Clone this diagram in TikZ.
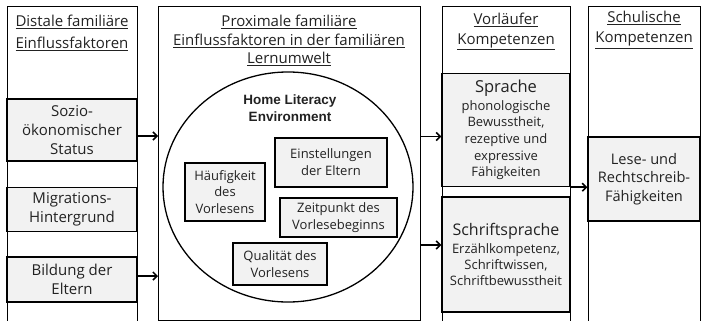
\documentclass[tikz,border=0pt]{standalone}
\usepackage{fontspec}
\setmainfont{Open Sans}
\newfontfamily\hlefont{Liberation Sans}
\usetikzlibrary{arrows.meta,shapes.geometric}
\definecolor{boxfill}{HTML}{F2F2F2}
\definecolor{txt}{HTML}{222222}
\begin{document}
\begin{tikzpicture}[x=1pt,y=-1pt,
  colbox/.style={draw=black, line width=1.4pt, anchor=north west, inner sep=0pt},
  fbox/.style={draw=black, line width=1.4pt, fill=boxfill, inner sep=0pt, align=center, text=txt,
    font=\fontsize{15}{18.7}\selectfont},
  ibox/.style={draw=black, line width=1.3pt, fill=boxfill, inner sep=0pt, align=center, text=txt,
    font=\fontsize{13}{16.8}\selectfont},
  ttl/.style={align=center, inner sep=0pt, text=txt},
  arr/.style={line width=1.5pt, -{Straight Barb[length=4pt,width=8pt,line width=1.5pt]}}
]
\useasboundingbox (0,0) rectangle (701,321);
% columns
\node[colbox, minimum width=130pt, minimum height=335pt] (c1) at (7,6) {};
\node[colbox, minimum width=262pt, minimum height=313.5pt] (c2) at (158,6) {};
\node[colbox, minimum width=128pt, minimum height=335pt] (c3) at (442,6) {};
\node[colbox, minimum width=112pt, minimum height=335pt] (c4) at (588,6) {};
% titles
\node[ttl, font=\fontsize{15}{22.3}\selectfont] (t1) at (72,33) {\underline{Distale familiäre}\\\underline{Einflussfaktoren}};
\node[ttl, font=\fontsize{15}{18.5}\selectfont] (t2) at (289,40.5) {\underline{Proximale familiäre}\\\underline{Einflussfaktoren in der familiären}\\\underline{Lernumwelt}};
\node[ttl, font=\fontsize{15}{20}\selectfont] (t3) at (506,31.7) {\underline{Vorläufer}\\\underline{Kompetenzen}};
\node[ttl, font=\fontsize{15}{20}\selectfont] (t4) at (644,30) {\underline{Schulische}\\\underline{Kompetenzen}};
% column 1 boxes
\node[fbox, minimum width=130pt, minimum height=62pt] (soz) at (72,130) {Sozio-\\ökonomischer\\Status};
\node[fbox, minimum width=130pt, minimum height=44pt] (mig) at (72,209.5) {Migrations-\\Hintergrund};
\node[fbox, minimum width=130pt, minimum height=45pt] (bil) at (72,279.5) {Bildung der\\Eltern};
% column 2
\node[draw=black, line width=1.3pt, ellipse, minimum width=250pt, minimum height=230pt, inner sep=0pt] (hle) at (288,187) {};
\node[ttl, font=\hlefont\bfseries\fontsize{13.5}{17}\selectfont] (hlet) at (290,108.5) {Home Literacy\\Environment};
\node[ibox, minimum width=112pt, minimum height=49pt] (einst) at (331,162.5) {Einstellungen\\der Eltern};
\node[ibox, minimum width=80pt, minimum height=58pt] (haeuf) at (225,192) {Häufigkeit\\des\\Vorlesens};
\node[ibox, minimum width=117pt, minimum height=39pt] (zeit) at (338.5,217.5) {Zeitpunkt des\\Vorlesebeginns};
\node[ibox, minimum width=94pt, minimum height=42pt] (qual) at (280,264) {Qualität des\\Vorlesens};
% column 3
\node[fbox, minimum width=128pt, minimum height=113pt, font=\fontsize{13}{16.7}\selectfont] (spr) at (506,130)
  {{\fontsize{16.5}{19}\selectfont Sprache}\\[1pt]phonologische\\Bewusstheit,\\rezeptive und\\expressive\\Fähigkeiten};
\node[fbox, minimum width=128pt, minimum height=115pt, font=\fontsize{13}{15.8}\selectfont] (schr) at (506,254.5)
  {{\fontsize{16}{19}\selectfont Schriftsprache}\\[2pt]Erzählkompetenz,\\Schriftwissen,\\Schriftbewusstheit};
% column 4
\node[fbox, minimum width=112pt, minimum height=84pt, font=\fontsize{14.6}{18.5}\selectfont] (lese) at (644,179) {Lese- und\\Rechtschreib-\\Fähigkeiten};
% arrows
\draw[arr] ([yshift=-6pt]soz.east) -- ([yshift=-6pt]soz.east -| c2.west);
\draw[arr] ([yshift=3.5pt]bil.east) -- ([yshift=3.5pt]bil.east -| c2.west);
\draw[arr] ([yshift=-6.5pt]spr.west -| c2.east) -- ([yshift=-6.5pt]spr.west);
\draw[arr] ([yshift=9.5pt]schr.west -| c2.east) -- ([yshift=9.5pt]schr.west);
\draw[arr] (spr.south east) -- (spr.south east -| lese.west);
\end{tikzpicture}
\end{document}
